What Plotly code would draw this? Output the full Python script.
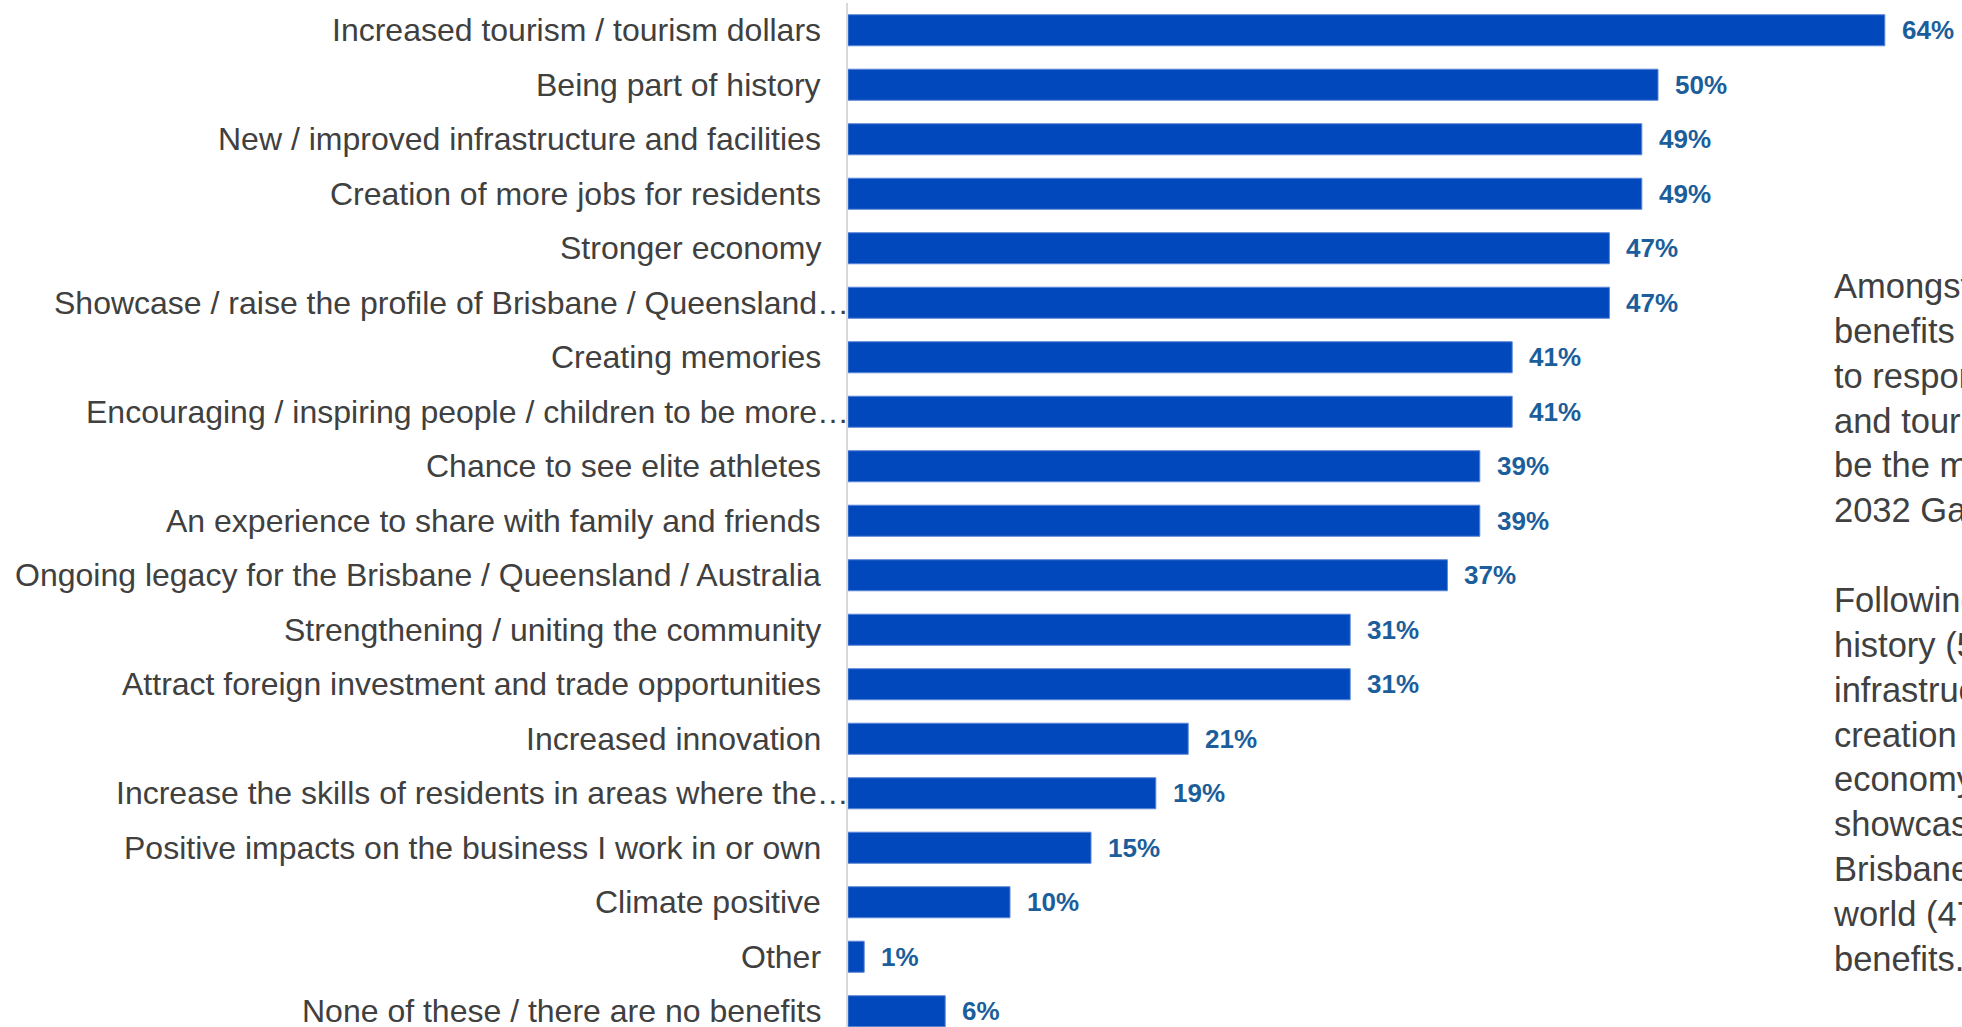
import plotly.graph_objects as go

# Perceived benefits of hosting the 2032 Games (share of respondents, %)
categories = [
    "Increased tourism / tourism dollars",
    "Being part of history",
    "New / improved infrastructure and facilities",
    "Creation of more jobs for residents",
    "Stronger economy",
    "Showcase / raise the profile of Brisbane / Queensland…",
    "Creating memories",
    "Encouraging / inspiring people / children to be more…",
    "Chance to see elite athletes",
    "An experience to share with family and friends",
    "Ongoing legacy for the Brisbane / Queensland / Australia",
    "Strengthening / uniting the community",
    "Attract foreign investment and trade opportunities",
    "Increased innovation",
    "Increase the skills of residents in areas where the…",
    "Positive impacts on the business I work in or own",
    "Climate positive",
    "Other",
    "None of these / there are no benefits",
]
values = [64, 50, 49, 49, 47, 47, 41, 41, 39, 39, 37, 31, 31, 21, 19, 15, 10, 1, 6]
value_labels = [f"{v}%" for v in values]

commentary = (
    "Amongst the potential<br>"
    "benefits presented<br>"
    "to respondents, tourism<br>"
    "and tourism dollars would<br>"
    "be the most likely from the<br>"
    "2032 Games (64%).<br>"
    "<br>"
    "Following this, being part of<br>"
    "history (50%), new / improved<br>"
    "infrastructure (49%), job<br>"
    "creation (49%), a stronger<br>"
    "economy (47%) and<br>"
    "showcasing / raising the profile of<br>"
    "Brisbane / Queensland to the<br>"
    "world (47%) were the top<br>"
    "benefits."
)

BAR = "#0048BC"
VALUE_COLOR = "#1B5E9B"
TEXT = "#404040"
FONT = "Arial, 'Liberation Sans', sans-serif"

W, H = 1962, 1027
ML, MT = 848, 3
plot_w = W - ML
plot_h = H - MT
px_per_unit = 16.2
row_px = 54.5

fig = go.Figure(
    go.Bar(
        x=values,
        y=categories,
        orientation="h",
        marker=dict(color=BAR, line=dict(color="#5B86D6", width=1)),
        hoverinfo="skip",
    )
)

# category labels on the left, right-aligned against the axis
for cat in categories:
    truncated = cat.endswith("…")
    fig.add_annotation(
        x=0, xref="paper", y=cat, yref="y",
        text=cat, showarrow=False,
        xanchor="right", yanchor="middle",
        xshift=3 if truncated else -25,
        font=dict(family=FONT, size=32, color=TEXT),
    )

# value labels at the end of each bar
for cat, v, lab in zip(categories, values, value_labels):
    fig.add_annotation(
        x=v, xref="x", y=cat, yref="y",
        text=f"<b>{lab}</b>", showarrow=False,
        xanchor="left", yanchor="middle", xshift=15,
        font=dict(family=FONT, size=26, color=VALUE_COLOR),
    )

# commentary block on the right
fig.add_annotation(
    x=(1831 - ML) / plot_w, xref="paper",
    y=1 - (265 - MT) / plot_h, yref="paper",
    text=commentary, showarrow=False, align="left",
    xanchor="left", yanchor="top",
    font=dict(family=FONT, size=34.5, color=TEXT),
)

fig.update_layout(
    width=W, height=H,
    margin=dict(l=ML, r=0, t=MT, b=0, pad=0),
    paper_bgcolor="white", plot_bgcolor="white",
    showlegend=False,
    bargap=0.43,
)
fig.update_xaxes(
    range=[0, plot_w / px_per_unit],
    visible=False, fixedrange=True,
)
fig.update_yaxes(
    type="category",
    range=[plot_h / row_px - 0.5, -0.5],
    showticklabels=False, ticks="",
    showgrid=False, zeroline=False,
    showline=True, linecolor="#D9D9D9", linewidth=2,
    fixedrange=True,
)

fig.write_html("out.html", config={"displayModeBar": False})
